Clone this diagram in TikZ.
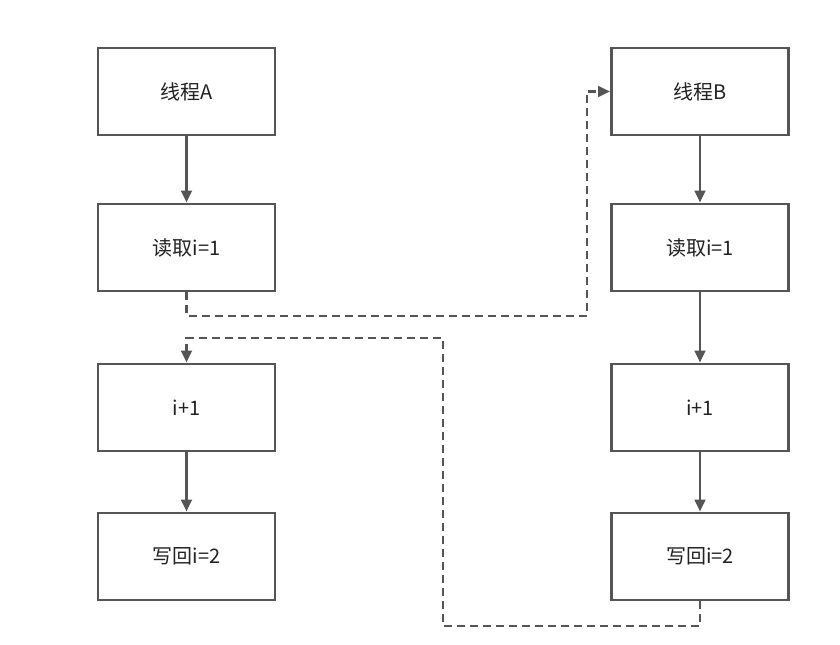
\documentclass[tikz,border=0pt]{standalone}
\usepackage{fontspec}
\setmainfont{Noto Sans CJK SC}
\usetikzlibrary{arrows.meta}
\definecolor{linegray}{HTML}{555555}
\definecolor{textgray}{HTML}{222222}
\begin{document}
\begin{tikzpicture}[x=0.75pt, y=-0.75pt,
    every node/.style={font=\fontsize{15}{18}\selectfont, text=textgray},
    stepbox/.style={draw=linegray, line width=2.2pt, fill=white, minimum width=132.75pt, minimum height=65.25pt, inner sep=0pt},
    flow/.style={draw=linegray, line width=2pt, -{Triangle[length=9pt,width=8pt]}},
    crossflow/.style={draw=linegray, line width=2pt, dash pattern=on 6pt off 3.75pt, -{Triangle[length=9pt,width=8pt]}}]
    \useasboundingbox (0,0) rectangle (840,645);
    % thread A
    \node[stepbox] (a1) at (186.5,91.5) {线程A};
    \node[stepbox] (a2) at (186.5,247.5) {读取i=1};
    \node[stepbox] (a3) at (186.5,407.5) {i+1};
    \node[stepbox] (a4) at (186.5,556.5) {写回i=2};
    % thread B
    \node[stepbox] (b1) at (700,91.5) {线程B};
    \node[stepbox] (b2) at (700,247.5) {读取i=1};
    \node[stepbox] (b3) at (700,407.5) {i+1};
    \node[stepbox] (b4) at (700,556.5) {写回i=2};
    \draw[flow] (a1) -- (a2);
    \draw[flow] (a3) -- (a4);
    \draw[flow] (b1) -- (b2);
    \draw[flow] (b2) -- (b3);
    \draw[flow] (b3) -- (b4);
    % interleaving
    \coordinate (turn1) at (587,316);
    \coordinate (turn2) at (443,626);
    \coordinate (turn3) at (443,338);
    \draw[crossflow] (a2.south) |- (turn1) |- (b1.west);
    \draw[crossflow] (b4.south) |- (turn2) -- (turn3) -| (a3.north);
\end{tikzpicture}
\end{document}
